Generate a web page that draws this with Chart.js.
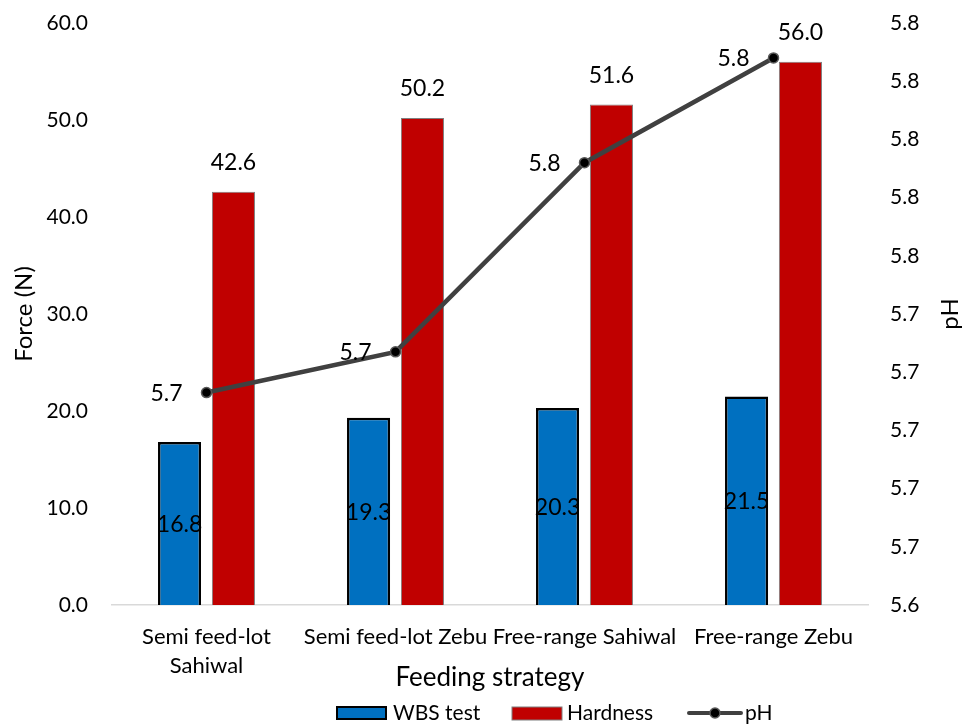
<!DOCTYPE html>
<html>
<head>
<meta charset="utf-8">
<script src="https://cdn.jsdelivr.net/npm/chart.js@4/dist/chart.umd.min.js"></script>
<style>
  html, body { margin: 0; padding: 0; background: #fff; }
  #wrap { width: 963px; height: 725px; position: relative; }
</style>
</head>
<body>
<div id="wrap"><canvas id="grafico"></canvas></div>
<script>
// dados
const categorias = [['Semi feed-lot', 'Sahiwal'], 'Semi feed-lot Zebu', 'Free-range Sahiwal', 'Free-range Zebu'];
const wbsTest = [16.8, 19.3, 20.3, 21.5];
const hardness = [42.6, 50.2, 51.6, 56.0];
const phValores = [5.713, 5.727, 5.792, 5.828];
const forceTicks = [0, 10, 20, 30, 40, 50, 60];
const phTicks = [5.64, 5.66, 5.68, 5.70, 5.72, 5.74, 5.76, 5.78, 5.80, 5.82, 5.84];

const FONTE = 'Lato, "Open Sans", sans-serif';
const AZUL = '#0070C0';
const VERMELHO = '#C00000';
const LINHA = '#404040';

// rótulos de dados, títulos dos eixos e legenda
const extras = {
    id: 'extras',
    afterDatasetsDraw(chart) {
        const ctx = chart.ctx;
        ctx.save();
        ctx.fillStyle = '#000';
        ctx.font = '23px ' + FONTE;

        // WBS test: dentro da barra, no centro
        chart.getDatasetMeta(0).data.forEach((bar, i) => {
            ctx.textAlign = 'center';
            ctx.textBaseline = 'middle';
            ctx.fillText(wbsTest[i].toFixed(1), bar.x, (bar.y + bar.base) / 2 + 1);
        });
        // Hardness: acima da barra
        chart.getDatasetMeta(1).data.forEach((bar, i) => {
            ctx.textAlign = 'center';
            ctx.textBaseline = 'middle';
            ctx.fillText(hardness[i].toFixed(1), bar.x, bar.y - 29);
        });
        // pH: à esquerda do ponto
        chart.getDatasetMeta(2).data.forEach((pt, i) => {
            ctx.textAlign = 'right';
            ctx.textBaseline = 'middle';
            ctx.fillText(phValores[i].toFixed(1), pt.x - 24, pt.y + 1);
        });

        const area = chart.chartArea;
        const meioY = (area.top + area.bottom) / 2;

        // títulos dos eixos
        ctx.textAlign = 'center';
        ctx.textBaseline = 'middle';
        ctx.font = '26px ' + FONTE;
        ctx.fillText('Feeding strategy', (area.left + area.right) / 2, 678);

        ctx.font = '24px ' + FONTE;
        ctx.save();
        ctx.translate(24, meioY);
        ctx.rotate(-Math.PI / 2);
        ctx.fillText('Force (N)', 0, 0);
        ctx.restore();

        ctx.save();
        ctx.translate(950, meioY);
        ctx.rotate(-Math.PI / 2);
        ctx.fillText('pH', 0, 0);
        ctx.restore();

        // legenda
        const ly = 713;
        ctx.font = '21px ' + FONTE;
        ctx.textAlign = 'left';
        ctx.textBaseline = 'middle';

        ctx.fillStyle = AZUL;
        ctx.fillRect(337, ly - 6, 49, 12);
        ctx.strokeStyle = '#000';
        ctx.lineWidth = 2;
        ctx.strokeRect(337, ly - 6, 49, 12);
        ctx.fillStyle = '#000';
        ctx.fillText('WBS test', 393, ly);

        ctx.fillStyle = VERMELHO;
        ctx.fillRect(512, ly - 6, 50, 13);
        ctx.strokeStyle = '#7f7f7f';
        ctx.lineWidth = 1;
        ctx.strokeRect(512, ly - 6, 50, 13);
        ctx.fillStyle = '#000';
        ctx.fillText('Hardness', 567, ly);

        ctx.strokeStyle = LINHA;
        ctx.lineWidth = 4;
        ctx.lineCap = 'round';
        ctx.beginPath();
        ctx.moveTo(689, ly);
        ctx.lineTo(741, ly);
        ctx.stroke();
        ctx.beginPath();
        ctx.arc(715, ly, 5, 0, Math.PI * 2);
        ctx.fillStyle = '#000';
        ctx.fill();
        ctx.strokeStyle = '#595959';
        ctx.lineWidth = 1.5;
        ctx.stroke();
        ctx.fillStyle = '#000';
        ctx.fillText('pH', 745, ly);

        ctx.restore();
    }
};

document.addEventListener('DOMContentLoaded', () => {
    const ctxGrafico = document.getElementById('grafico');

    new Chart(ctxGrafico, {
        data: {
            labels: categorias,
            datasets: [
                {
                    type: 'bar',
                    label: 'WBS test',
                    data: wbsTest,
                    backgroundColor: AZUL,
                    borderColor: '#000',
                    borderWidth: 2.5,
                    categoryPercentage: 0.57,
                    barPercentage: 0.8,
                    yAxisID: 'y',
                    order: 2
                },
                {
                    type: 'bar',
                    label: 'Hardness',
                    data: hardness,
                    backgroundColor: VERMELHO,
                    borderColor: '#7f7f7f',
                    borderWidth: 1,
                    categoryPercentage: 0.57,
                    barPercentage: 0.8,
                    yAxisID: 'y',
                    order: 2
                },
                {
                    type: 'line',
                    label: 'pH',
                    data: phValores,
                    borderColor: LINHA,
                    borderWidth: 4.5,
                    pointRadius: 5,
                    pointBackgroundColor: '#000',
                    pointBorderColor: '#595959',
                    pointBorderWidth: 1.5,
                    tension: 0,
                    yAxisID: 'y1',
                    order: 1
                }
            ]
        },
        options: {
            responsive: true,
            maintainAspectRatio: false,
            animation: false,
            layout: { padding: { top: 23, left: 0, right: 0, bottom: 0 } },
            plugins: {
                legend: { display: false },
                tooltip: { enabled: false }
            },
            scales: {
                x: {
                    grid: { display: false, drawTicks: false },
                    border: { display: true, color: '#d9d9d9', width: 1.5 },
                    ticks: {
                        color: '#000',
                        padding: 18,
                        maxRotation: 0,
                        autoSkip: false,
                        font: { family: FONTE, size: 22, lineHeight: 1.3 }
                    },
                    afterFit(scale) { scale.height = 120; }
                },
                y: {
                    position: 'left',
                    min: forceTicks[0],
                    max: forceTicks[forceTicks.length - 1],
                    afterBuildTicks(scale) { scale.ticks = forceTicks.map(v => ({ value: v })); },
                    grid: { display: false, drawTicks: false },
                    border: { display: false },
                    ticks: {
                        color: '#000',
                        padding: 24,
                        font: { family: FONTE, size: 21 },
                        callback: v => Number(v).toFixed(1)
                    },
                    afterFit(scale) { scale.width = 112; scale.paddingTop = 0; scale.paddingBottom = 0; }
                },
                y1: {
                    position: 'right',
                    min: phTicks[0],
                    max: phTicks[phTicks.length - 1],
                    afterBuildTicks(scale) { scale.ticks = phTicks.map(v => ({ value: v })); },
                    grid: { display: false, drawTicks: false },
                    border: { display: false },
                    ticks: {
                        color: '#000',
                        padding: 22,
                        font: { family: FONTE, size: 21 },
                        callback: v => Number(v).toFixed(1)
                    },
                    afterFit(scale) { scale.width = 95; scale.paddingTop = 0; scale.paddingBottom = 0; }
                }
            }
        },
        plugins: [extras]
    });
});
</script>
</body>
</html>
